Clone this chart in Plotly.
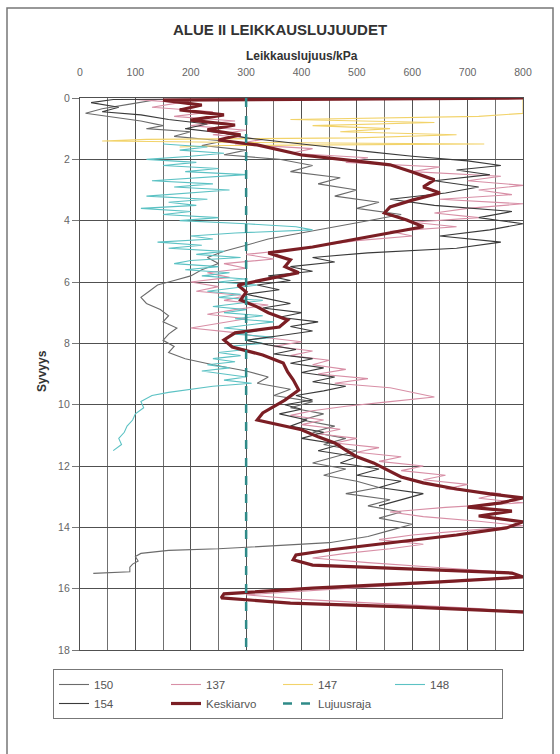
import plotly.graph_objects as go

# ---------------- data (depth m, shear strength kPa) ----------------
D_150 = [0, 0.05, 0.2, 0.35, 0.5, 0.6, 0.75, 0.9, 1.0, 1.1, 1.25, 1.4, 1.55, 1.7, 1.85,
         2.0, 2.2, 2.4, 2.6, 2.8, 3.0, 3.2, 3.4, 3.6, 3.8, 4.0, 4.2, 4.4, 4.6, 4.8,
         5.0, 5.2, 5.4, 5.6, 5.8, 5.95, 6.1, 6.3, 6.5, 6.7, 6.9, 7.1, 7.3, 7.5, 7.7,
         7.9, 8.1, 8.3, 8.5, 8.7, 8.9, 9.1, 9.3, 9.5, 9.7, 9.9, 10.1, 10.3, 10.5, 10.7,
         10.9, 11.1, 11.3, 11.5, 11.7, 11.9, 12.1, 12.3, 12.5, 12.7, 12.9, 13.1, 13.3, 13.5, 13.7,
         13.9, 14.1, 14.3, 14.5, 14.6, 14.7, 14.75, 14.8, 14.85, 14.95, 15.1, 15.2, 15.3, 15.45, 15.5]
V_150 = [800, 140, 90, 40, 10, 50, 110, 150, 120, 200, 170, 260, 220, 300, 260,
         360, 420, 380, 470, 430, 500, 460, 540, 500, 580, 520, 460, 400, 340, 300,
         260, 230, 250, 220, 200, 170, 140, 125, 110, 120, 145, 160, 150, 175, 160,
         150, 170, 160, 190, 240, 300, 340, 320, 380, 350, 420, 380, 440, 400, 460,
         420, 480, 440, 500, 460, 420, 480, 440, 500, 540, 480, 560, 520, 580, 540,
         600, 560, 520, 450, 350, 250, 160, 130, 110, 100, 105, 95, 90, 90, 24]

D_137 = [0, 0.05, 0.15, 0.3, 0.45, 0.6, 0.75, 0.9, 1.05, 1.2, 1.35, 1.5, 1.65, 1.8, 1.95,
         2.1, 2.25, 2.4, 2.55, 2.7, 2.85, 3.0, 3.15, 3.3, 3.45, 3.6, 3.75, 3.9, 4.05, 4.2,
         4.35, 4.5, 4.65, 4.8, 4.95, 5.1, 5.25, 5.4, 5.55, 5.7, 5.85, 6.0, 6.15, 6.3, 6.45,
         6.6, 6.75, 6.9, 7.05, 7.2, 7.35, 7.5, 7.65, 7.8, 7.95, 8.1, 8.25, 8.4, 8.55, 8.7,
         8.85, 9.0, 9.15, 9.3, 9.45, 9.6, 9.75, 9.9, 10.05, 10.2, 10.35, 10.5, 10.65, 10.8, 10.95,
         11.1, 11.25, 11.4, 11.55, 11.7, 11.85, 12.0, 12.15, 12.3, 12.45, 12.6, 12.75, 12.9, 13.05, 13.2,
         13.35, 13.5, 13.65, 13.8, 13.95, 14.1, 14.25, 14.4, 14.55, 14.7, 14.85, 15.0, 15.15, 15.3, 15.45,
         15.6, 15.75, 15.9, 16.05, 16.2, 16.35, 16.5, 16.65, 16.8]
V_137 = [800, 100, 180, 130, 240, 170, 280, 200, 300, 240, 330, 280, 420, 380, 520,
         480, 650, 600, 760, 700, 800, 720, 780, 650, 800, 700, 640, 720, 600, 680,
         560, 600, 500, 440, 380, 300, 350, 260, 300, 230, 270, 200, 250, 210, 300,
         260, 340, 280, 230, 300, 250, 200, 280, 330, 400, 350, 420, 380, 450, 420,
         480, 430, 520, 460, 560, 600, 640, 560, 480, 420, 380, 440, 400, 470, 430,
         500, 460, 540, 500, 580, 540, 620, 580, 660, 620, 700, 660, 760, 720, 800,
         660, 560, 620, 720, 800, 700, 600, 540, 620, 560, 480, 420, 520, 640, 760,
         800, 700, 560, 420, 300, 400, 560, 720, 800]

D_147 = [0, 0.5, 0.6, 0.7, 0.8, 0.9, 1.0, 1.1, 1.2, 1.3, 1.35, 1.4, 1.45, 1.5, 1.55, 1.6]
V_147 = [800, 800, 720, 380, 640, 420, 560, 470, 680, 500, 120, 40, 300, 730, 260, 180]

D_148 = [1.5, 1.6, 1.7, 1.8, 1.9, 2.0, 2.1, 2.2, 2.3, 2.4,
         2.5, 2.6, 2.7, 2.8, 2.9, 3.0, 3.1, 3.2, 3.3, 3.4,
         3.5, 3.6, 3.7, 3.8, 3.9, 4.0, 4.1, 4.2, 4.3, 4.4,
         4.5, 4.6, 4.7, 4.8, 4.9, 5.0, 5.1, 5.2, 5.3, 5.4,
         5.5, 5.6, 5.7, 5.8, 5.9, 6.0, 6.1, 6.2, 6.3, 6.4,
         6.5, 6.6, 6.7, 6.8, 6.9, 7.0, 7.1, 7.2, 7.3, 7.4,
         7.5, 7.6, 7.7, 7.8, 7.9, 8.0, 8.1, 8.2, 8.3, 8.4,
         8.5, 8.6, 8.7, 8.8, 8.9, 9.0, 9.1, 9.2, 9.3, 9.4,
         9.5, 9.6, 9.7, 9.8, 9.9, 10.1, 10.3, 10.5, 10.7, 10.9, 11.1, 11.3, 11.5]
V_148 = [150, 230, 180, 260, 200, 120, 210, 150, 250, 190,
         300, 220, 130, 240, 170, 270, 200, 120, 230, 160,
         210, 110, 200, 150, 250, 180, 300, 390, 420, 280,
         200, 240, 140, 220, 160, 260, 210, 290, 200, 170,
         250, 190, 270, 220, 300, 250, 320, 270, 230, 290,
         250, 330, 280, 240, 300, 260, 330, 280, 350, 300,
         260, 320, 280, 350, 300, 330, 270, 300, 250, 290,
         240, 280, 230, 270, 220, 260, 300, 260, 310, 240,
         200, 160, 130, 120, 110, 115, 100, 95, 85, 80, 70, 75, 60]

D_154 = [0, 0.05, 0.15, 0.3, 0.45, 0.55, 0.7, 0.85, 1.0, 1.15, 1.3, 1.45, 1.6, 1.75, 1.9,
         2.05, 2.2, 2.35, 2.5, 2.7, 2.9, 3.1, 3.3, 3.5, 3.7, 3.9, 4.1, 4.3, 4.5, 4.7,
         4.9, 5.05, 5.2, 5.35, 5.5, 5.65, 5.8, 5.95, 6.1, 6.25, 6.4, 6.55, 6.7, 6.85, 7.0,
         7.15, 7.3, 7.45, 7.6, 7.75, 7.9, 8.05, 8.2, 8.35, 8.5, 8.65, 8.8, 8.95, 9.1, 9.25,
         9.4, 9.55, 9.7, 9.85, 10.0, 10.15, 10.3, 10.5, 10.7, 10.9, 11.1, 11.3, 11.5, 11.7, 11.9,
         12.1, 12.3, 12.5, 12.7, 12.9, 13.1, 13.3]
V_154 = [800, 60, 20, 70, 40, 110, 160, 230, 190, 260, 300, 380, 450, 520, 600,
         700, 760, 680, 740, 640, 720, 660, 560, 640, 780, 720, 800, 740, 650, 760,
         680, 520, 420, 460, 380, 420, 340, 380, 320, 360, 300, 340, 380, 330, 400,
         360, 430, 380, 420, 360, 300, 340, 390, 350, 420, 380, 440, 400, 460, 420,
         480, 440, 390, 420, 370, 400, 360, 410, 380, 440, 400, 470, 430, 500, 470,
         540, 500, 580, 540, 620, 580, 540]

D_MEAN = [0, 0.07, 0.23, 0.39, 0.55, 0.72, 0.88, 1.04, 1.2, 1.37, 1.53, 1.7, 1.86, 2.02, 2.18,
          2.41, 2.67, 2.9, 3.1, 3.33, 3.55, 3.75, 3.98, 4.2, 4.4, 4.63, 4.86, 5.05, 5.28, 5.5,
          5.7, 5.93, 6.1, 6.33, 6.59, 6.81, 7.0, 7.24, 7.47, 7.66, 7.89, 8.12, 8.38, 8.64, 8.93,
          9.19, 9.52, 9.85, 10.07, 10.27, 10.5, 10.66, 10.82, 11.05, 11.25, 11.48, 11.7, 11.9, 12.13, 12.36,
          12.55, 12.75, 12.91, 13.04, 13.2, 13.34, 13.47, 13.63, 13.82, 14.02, 14.25, 14.51, 14.74, 14.9, 15.06,
          15.23, 15.36, 15.49, 15.62, 15.78, 15.98, 16.17, 16.3, 16.47, 16.6, 16.76]
V_MEAN = [800, 150, 220, 180, 260, 200, 280, 230, 290, 250, 320, 360, 400, 480, 560,
          600, 640, 620, 650, 600, 560, 550, 590, 620, 560, 490, 420, 340, 380, 370,
          395, 330, 285, 300, 290, 320, 340, 375, 360, 280, 260, 275, 330, 367, 375,
          385, 395, 370, 350, 330, 320, 360, 400, 430, 460, 480, 500, 530, 555, 580,
          620, 680, 740, 800, 760, 700, 780, 720, 800, 770, 680, 560, 450, 390, 385,
          420, 600, 780, 800, 650, 420, 260, 255, 380, 600, 800]

D_LIMIT = [0, 18]
V_LIMIT = [300, 300]

X_TICKS = [0, 100, 200, 300, 400, 500, 600, 700, 800]
Y_TICKS = [0, 2, 4, 6, 8, 10, 12, 14, 16, 18]

# ---------------- figure ----------------
W, H = 560, 754
L, R, T, B = 80, 37, 98, 104
PW, PH = W - L - R, H - T - B


def px(x):
    return (x - L) / PW


def py(y):
    return (H - B - y) / PH


fig = go.Figure()

series = [
    ("150", D_150, V_150, "#6b6b6b", 1.1, "solid"),
    ("137", D_137, V_137, "#d88fa6", 1.1, "solid"),
    ("147", D_147, V_147, "#f2d36a", 1.1, "solid"),
    ("148", D_148, V_148, "#5cc2c4", 1.1, "solid"),
    ("154", D_154, V_154, "#3a3a3a", 1.1, "solid"),
    ("Keskiarvo", D_MEAN, V_MEAN, "#7b1e24", 3.2, "solid"),
    ("Lujuusraja", D_LIMIT, V_LIMIT, "#2f8a88", 2.5, "dash"),
]
for name, d, v, col, w, dash in series:
    fig.add_trace(go.Scatter(x=v, y=d, mode="lines", name=name,
                             line=dict(color=col, width=w, dash=dash)))

fig.update_layout(
    width=W, height=H,
    margin=dict(l=L, r=R, t=T, b=B),
    paper_bgcolor="white", plot_bgcolor="white",
    font=dict(family="Liberation Sans, Arial, sans-serif", color="#333"),
    title=dict(text="<b>ALUE II LEIKKAUSLUJUUDET</b>", x=0.5, xref="container",
               y=1 - 30 / H, yanchor="middle", font=dict(size=15, color="#333")),
    showlegend=True,
    legend=dict(orientation="h", x=px(53), y=py(669), xanchor="left", yanchor="top",
                bordercolor="#777", borderwidth=1, bgcolor="white",
                entrywidth=67, entrywidthmode="pixels",
                font=dict(size=11.5, color="#555"), tracegroupgap=0),
)

fig.update_xaxes(
    range=[0, 800], side="top", tickvals=X_TICKS, ticktext=[str(t) for t in X_TICKS],
    showgrid=True, gridcolor="#505050", gridwidth=1.3,
    minor=dict(dtick=50, showgrid=True, gridcolor="#707070", gridwidth=1.1),
    zeroline=False, showline=True, linecolor="#505050", linewidth=1.3, mirror=True,
    ticks="", ticklabelstandoff=17, tickfont=dict(size=10.5, color="#666"),
)
fig.update_yaxes(
    range=[18, 0], tickvals=Y_TICKS, ticktext=[str(t) for t in Y_TICKS],
    showgrid=True, gridcolor="#505050", gridwidth=1.3,
    zeroline=False, showline=True, linecolor="#505050", linewidth=1.3, mirror=True,
    ticks="outside", ticklen=7, tickcolor="#777", tickfont=dict(size=10.5, color="#666"),
)

fig.add_annotation(text="<b>Leikkauslujuus/kPa</b>", xref="paper", yref="paper",
                   x=0.5, y=py(47), showarrow=False, font=dict(size=12, color="#333"))
fig.add_annotation(text="<b>Syvyys</b>", xref="paper", yref="paper",
                   x=px(33), y=py(371), textangle=-90, showarrow=False,
                   font=dict(size=12, color="#333"))

fig.add_shape(type="rect", xref="paper", yref="paper",
              x0=px(7), x1=px(553), y0=py(770), y1=py(8),
              line=dict(color="#777", width=1.5), fillcolor="rgba(0,0,0,0)", layer="below")

fig.write_html("out.html", config={"displayModeBar": False},
               post_script="document.body.style.margin='0';")
